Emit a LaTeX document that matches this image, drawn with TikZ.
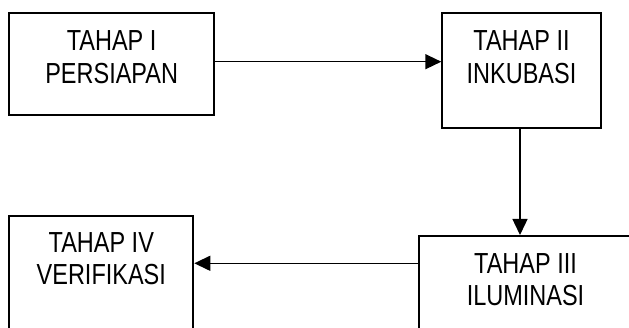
\documentclass[tikz,border=0pt]{standalone}
\usepackage{fontspec}
\setmainfont{Liberation Sans}[FakeStretch=0.81]
\usetikzlibrary{arrows.meta}
\tikzset{
  stagebox/.style={draw=black, line width=2pt, rectangle, inner sep=0pt},
  stagetext/.style={anchor=north, inner sep=0pt, align=center,
    font=\fontsize{29}{32.3}\selectfont},
  flow/.style={line width=1.4pt, -{Triangle[length=16pt,width=15pt]}}
}
\begin{document}
\begin{tikzpicture}[x=1pt,y=-1pt]
  \useasboundingbox (0,0) rectangle (629,328);
  \clip (0,0) rectangle (629,328);

  % stage boxes
  \node[stagebox, minimum width=204.7pt, minimum height=102pt] (b1) at (111.65,64.3) {};
  \node[stagebox, minimum width=158.4pt, minimum height=114.4pt] (b2) at (521.5,70.5) {};
  \node[stagebox, minimum width=212.4pt, minimum height=124pt] (b3) at (525.5,298) {};
  \node[stagebox, minimum width=184pt, minimum height=144pt] (b4) at (101.3,288) {};

  % stage labels
  \node[stagetext] (t1) at ([yshift=-18.4pt]b1.north) {TAHAP I\\PERSIAPAN};
  \node[stagetext] (t2) at ([yshift=-18.4pt]b2.north) {TAHAP II\\INKUBASI};
  \node[stagetext] (t3) at ([yshift=-18pt]b3.north) {TAHAP III\\ILUMINASI};
  \node[stagetext] (t4) at ([yshift=-17.3pt]b4.north) {TAHAP IV\\VERIFIKASI};

  % connector anchor points
  \coordinate (r1) at (0,61.7);
  \coordinate (d2) at (520,0);
  \coordinate (r3) at (0,263.3);

  % connectors
  \draw[flow] (b1.east |- r1) -- (b2.west |- r1);
  \draw[flow] (d2 |- b2.south) -- (d2 |- b3.north);
  \draw[flow] (b3.west |- r3) -- (b4.east |- r3);
\end{tikzpicture}
\end{document}
